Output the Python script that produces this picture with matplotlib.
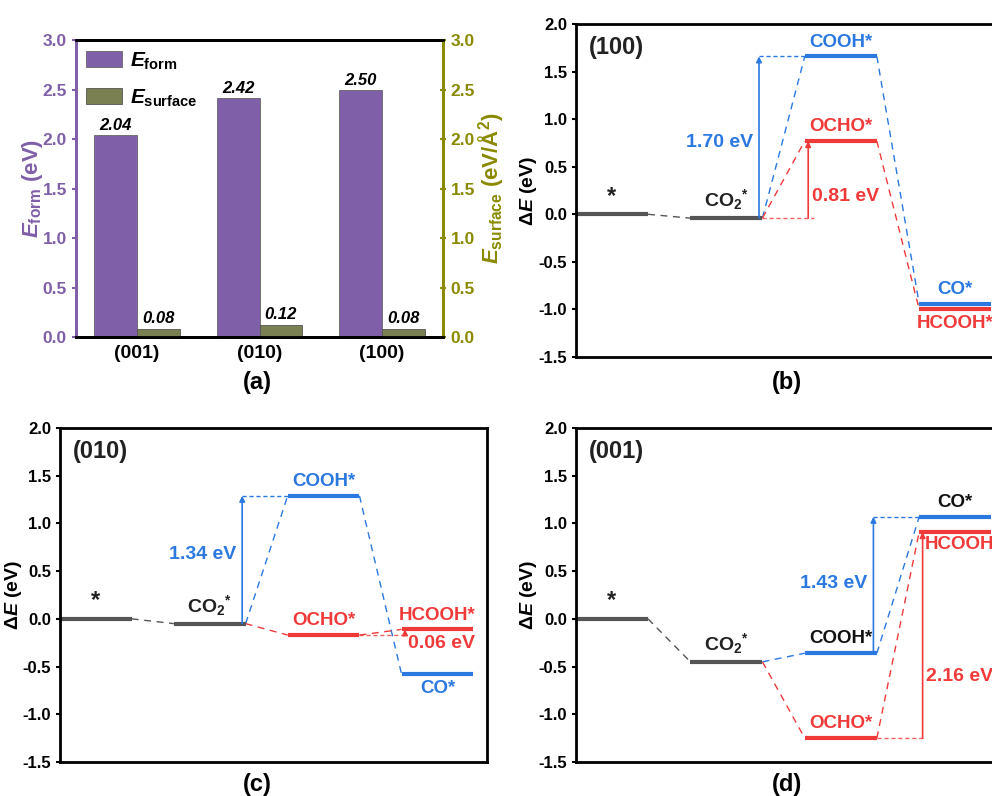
import numpy as np
import matplotlib.pyplot as plt

plt.rcParams['font.family'] = 'Liberation Sans'
plt.rcParams['font.weight'] = 'bold'
plt.rcParams['axes.labelweight'] = 'bold'
plt.rcParams['axes.unicode_minus'] = False
plt.rcParams['mathtext.fontset'] = 'custom'
plt.rcParams['mathtext.rm'] = 'Liberation Sans:bold'
plt.rcParams['mathtext.it'] = 'Liberation Sans:italic:bold'
plt.rcParams['mathtext.bf'] = 'Liberation Sans:bold'

# panel (a)
facets = ['(001)', '(010)', '(100)']
e_form = [2.04, 2.42, 2.50]
e_surface = [0.08, 0.12, 0.08]

# panels (b)-(d): levels *, CO2*, COOH*/OCHO*, CO*/HCOOH*
surfaces = ['(100)', '(010)', '(001)']
e_star = [0.0, 0.0, 0.0]
e_co2 = [-0.04, -0.05, -0.45]
e_cooh = [1.66, 1.29, -0.36]
e_ocho = [0.77, -0.17, -1.25]
e_co = [-0.94, -0.58, 1.07]
e_hcooh = [-1.00, -0.11, 0.91]
# rate-limiting steps (from level index) and their barriers
blue_step = [1, 1, 2]
red_step = [1, 2, 2]
blue_barrier = ['1.70 eV', '1.34 eV', '1.43 eV']
red_barrier = ['0.81 eV', '0.06 eV', '2.16 eV']

purple = '#7f5fa8'
olive_bar = '#7a8052'
olive = '#8a8a00'
blue = '#2a78e0'
red = '#f03a3a'
gray = '#555555'

fig = plt.figure(figsize=(9.92, 7.96), dpi=100)

# ---------- (a) ----------
ax = fig.add_axes([0.0766, 0.5766, 0.370, 0.373])
ax2 = ax.twinx()
x = np.arange(len(facets))
w = 0.35
b1 = ax.bar(x - w / 2, e_form, w, color=purple, edgecolor='#666666', lw=0.6, label=r'$E_{\mathrm{form}}$')
b2 = ax2.bar(x + w / 2, e_surface, w, color=olive_bar, edgecolor='#555555', lw=0.6, label=r'$E_{\mathrm{surface}}$')
for xi, v in zip(x, e_form):
    ax.text(xi - w / 2, v + 0.02, '%.2f' % v, ha='center', va='bottom', fontsize=12, style='italic')
for xi, v in zip(x, e_surface):
    ax2.text(xi + w / 2, v + 0.03, '%.2f' % v, ha='center', va='bottom', fontsize=12, style='italic')
ax.set_xlim(-0.5, 2.5)
ax.set_ylim(0, 3)
ax2.set_ylim(0, 3)
ax.set_xticks(x)
ax.set_xticklabels(facets, fontsize=14)
ax.tick_params(axis='x', length=0, pad=6)
ax.set_yticks(np.arange(0, 3.01, 0.5))
ax2.set_yticks(np.arange(0, 3.01, 0.5))
ax.tick_params(axis='y', colors=purple, labelsize=12.5, width=1.5, length=3, direction='out')
ax2.tick_params(axis='y', colors=olive, labelsize=12.5, width=1.5, length=4, direction='inout')
for a in (ax, ax2):
    for s in a.spines.values():
        s.set_linewidth(2)
    a.spines['left'].set_color(purple)
    a.spines['right'].set_color(olive)
ax.set_ylabel(r'$E_{\mathrm{form}}$ (eV)', color=purple, fontsize=16)
ax2.set_ylabel(r'$E_{\mathrm{surface}}$ (eV/Å$^{2}$)', color=olive, fontsize=16)
ax.yaxis.set_label_coords(-0.085, 0.5)
ax2.yaxis.set_label_coords(1.09, 0.5)
ax.legend(handles=[b1, b2], loc='upper left', frameon=False, fontsize=15,
          handlelength=1.7, handleheight=0.8, labelspacing=0.75,
          borderaxespad=0.1, handletextpad=0.4)
fig.text(0.259, 0.519, '(a)', ha='center', va='center', fontsize=17)

# ---------- (b)-(d) ----------
lw_ = 0.63
positions = [[0.5806, 0.5515, 0.4325, 0.4183],
             [0.0605, 0.0427, 0.4304, 0.4196],
             [0.5806, 0.0427, 0.4325, 0.4196]]
captions = [('(b)', 0.793, 0.519), ('(c)', 0.259, 0.014), ('(d)', 0.793, 0.014)]
blue_label_y = [0.75, 0.67, 0.37]
red_label_y = [0.19, -0.26, -0.60]
dash = (0, (5, 4))

for k in range(3):
    ax = fig.add_axes(positions[k])
    path_blue = [e_star[k], e_co2[k], e_cooh[k], e_co[k]]
    path_red = [e_star[k], e_co2[k], e_ocho[k], e_hcooh[k]]

    # connectors
    ax.plot([lw_, 1], path_blue[0:2], color=gray, lw=1, ls=dash)
    for i in (1, 2):
        ax.plot([i + lw_, i + 1], path_blue[i:i + 2], color=blue, lw=1, ls=dash)
        ax.plot([i + lw_, i + 1], path_red[i:i + 2], color=red, lw=1, ls=dash)

    # levels
    for i in (0, 1):
        ax.plot([i, i + lw_], [path_blue[i]] * 2, color=gray, lw=3, solid_capstyle='butt')
    for i in (2, 3):
        ax.plot([i, i + lw_], [path_red[i]] * 2, color=red, lw=3, solid_capstyle='butt')
        ax.plot([i, i + lw_], [path_blue[i]] * 2, color=blue, lw=3, solid_capstyle='butt')

    # blue barrier arrow
    i = blue_step[k]
    xa = i + 0.6
    ax.annotate('', xy=(xa, path_blue[i + 1]), xytext=(xa, path_blue[i]),
                arrowprops=dict(arrowstyle='-|>', color=blue, lw=1.2, mutation_scale=8, shrinkA=0, shrinkB=0))
    ax.plot([xa, i + 1], [path_blue[i + 1]] * 2, color=blue, lw=1, ls=(0, (3, 2)))
    ax.text(xa - 0.05, blue_label_y[k], blue_barrier[k], color=blue, ha='right', va='center', fontsize=14)

    # red barrier arrow
    i = red_step[k]
    xr = i + 1.03
    ax.annotate('', xy=(xr, path_red[i + 1]), xytext=(xr, path_red[i]),
                arrowprops=dict(arrowstyle='-|>', color=red, lw=1.2, mutation_scale=8, shrinkA=0, shrinkB=0))
    ax.plot([i + lw_, xr + 0.05 if k == 0 else xr], [path_red[i]] * 2, color=red, lw=1, ls=(0, (3, 2)), alpha=0.8)
    ax.text(xr + 0.03, red_label_y[k], red_barrier[k], color=red, ha='left', va='center', fontsize=14)

    # level labels
    c = lw_ / 2
    ax.text(c, 0.07, '*', ha='center', va='bottom', fontsize=17, color='#222222')
    ax.text(1 + c, path_blue[1] + 0.06, r'CO$_{2}$$^{*}$', ha='center', va='bottom', fontsize=14, color='#222222')
    lab_col = blue if k < 2 else '#111111'
    ax.text(2 + c, e_cooh[k] + 0.06, 'COOH*', ha='center', va='bottom', fontsize=13.5, color=lab_col)
    ax.text(2 + c, e_ocho[k] + 0.06, 'OCHO*', ha='center', va='bottom', fontsize=13.5, color=red)
    if k == 0:
        ax.text(3 + c, e_co[k] + 0.06, 'CO*', ha='center', va='bottom', fontsize=13.5, color=blue)
        ax.text(3 + c, e_hcooh[k] - 0.06, 'HCOOH*', ha='center', va='top', fontsize=13.5, color=red)
    elif k == 1:
        ax.text(3 + c, e_co[k] - 0.06, 'CO*', ha='center', va='top', fontsize=13.5, color=blue)
        ax.text(3 + c, e_hcooh[k] + 0.06, 'HCOOH*', ha='center', va='bottom', fontsize=13.5, color=red)
    else:
        ax.text(3 + c, e_co[k] + 0.06, 'CO*', ha='center', va='bottom', fontsize=13.5, color='#111111')
        ax.text(3.05, e_hcooh[k] - 0.04, 'HCOOH*', ha='left', va='top', fontsize=13.5, color=red)

    ax.text(0.03, 0.965, surfaces[k], transform=ax.transAxes, ha='left', va='top', fontsize=17, color='#222222')

    ax.set_xlim(0, 3.75)
    ax.set_ylim(-1.5, 2.0)
    ax.set_yticks(np.arange(-1.5, 2.01, 0.5))
    ax.set_xticks([])
    ax.tick_params(axis='y', direction='out', length=3, width=1.5, labelsize=12)
    for s in ax.spines.values():
        s.set_linewidth(2)
    ax.set_ylabel(r'Δ$E$ (eV)', fontsize=14)
    ax.yaxis.set_label_coords(-0.085, 0.5)
    lab, fx, fy = captions[k]
    fig.text(fx, fy, lab, ha='center', va='center', fontsize=17)

fig.savefig('out.png', dpi=100)
